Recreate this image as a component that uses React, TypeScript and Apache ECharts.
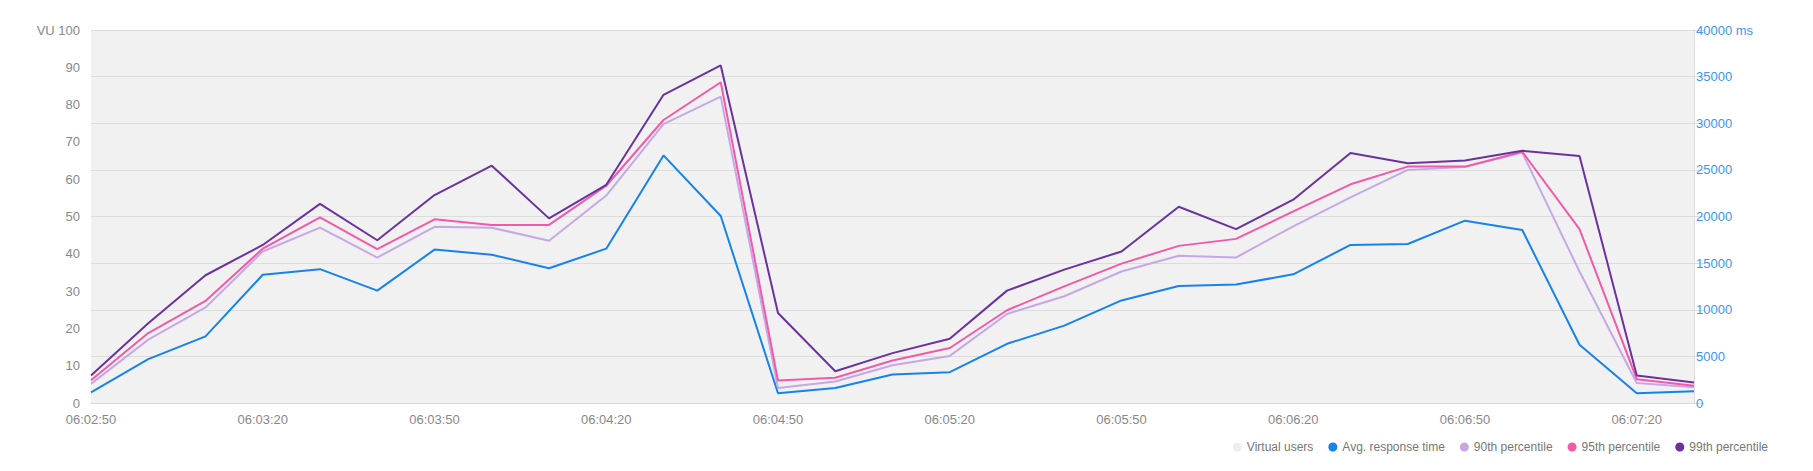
import React, { useEffect, useRef } from "react";
import * as echarts from "echarts";

const times = [
  "06:02:50", "06:03:00", "06:03:10", "06:03:20", "06:03:30", "06:03:40", "06:03:50", "06:04:00",
  "06:04:10", "06:04:20", "06:04:30", "06:04:40", "06:04:50", "06:05:00", "06:05:10", "06:05:20",
  "06:05:30", "06:05:40", "06:05:50", "06:06:00", "06:06:10", "06:06:20", "06:06:30", "06:06:40",
  "06:06:50", "06:07:00", "06:07:10", "06:07:20", "06:07:30",
];

const virtualUsers = [
  100, 100, 100, 100, 100, 100, 100, 100, 100, 100, 100, 100, 100, 100, 100,
  100, 100, 100, 100, 100, 100, 100, 100, 100, 100, 100, 100, 100, 100,
];

const avgResponse = [
  1150, 4700, 7150, 13750, 14350, 12050, 16450, 15900, 14450, 16550, 26550, 20050, 1050, 1600, 3050,
  3300, 6350, 8300, 11000, 12550, 12700, 13800, 16950, 17050, 19550, 18550, 6250, 1050, 1250,
];

const p90 = [
  2050, 6800, 10250, 16250, 18800, 15600, 18900, 18800, 17400, 22250, 29900, 32850, 1600, 2300, 4050,
  5050, 9550, 11450, 14100, 15800, 15600, 18950, 22050, 25000, 25300, 26850, 14100, 2150, 1700,
];

const p95 = [
  2450, 7500, 10950, 16550, 19900, 16500, 19700, 19100, 19100, 23300, 30350, 34400, 2400, 2700, 4550,
  5900, 9950, 12500, 14950, 16850, 17600, 20550, 23450, 25350, 25350, 26950, 18650, 2550, 1850,
];

const p99 = [
  2950, 8550, 13700, 16950, 21350, 17450, 22300, 25450, 19800, 23400, 33050, 36200, 9650, 3400, 5350,
  6900, 12050, 14300, 16250, 21050, 18650, 21800, 26800, 25700, 26000, 27050, 26500, 2950, 2200,
];

const legendNames = ["Virtual users", "Avg. response time", "90th percentile", "95th percentile", "99th percentile"];

const FONT = "'Liberation Sans', Arial, sans-serif";

export default function App() {
  const ref = useRef<HTMLDivElement>(null);

  useEffect(() => {
    document.body.style.margin = "0";
    if (!ref.current) return;
    const chart = echarts.init(ref.current, null, { renderer: "svg" });

    const line = (name: string, data: number[], color: string) => ({
      name,
      type: "line",
      yAxisIndex: 1,
      data,
      showSymbol: false,
      symbol: "circle",
      lineStyle: { color, width: 2 },
      itemStyle: { color },
      z: 3,
    });

    chart.setOption({
      animation: false,
      textStyle: { fontFamily: FONT },
      grid: { left: 91, right: 119, top: 30, bottom: 68, containLabel: false },
      legend: {
        right: 45,
        top: 441,
        padding: 0,
        itemGap: 15,
        itemWidth: 9,
        itemHeight: 9,
        icon: "circle",
        textStyle: { fontSize: 12, color: "#777", fontFamily: FONT },
        data: legendNames,
      },
      xAxis: {
        type: "category",
        data: times,
        boundaryGap: false,
        axisLine: { show: true, lineStyle: { color: "#c8c8c8", width: 1 } },
        axisTick: { show: false },
        axisLabel: { interval: 2, color: "#888", fontSize: 13, margin: 10, fontFamily: FONT },
        splitLine: { show: false },
      },
      yAxis: [
        {
          type: "value",
          min: 0,
          max: 100,
          interval: 10,
          position: "left",
          z: 1,
          axisLine: { show: false },
          axisTick: { show: false },
          splitLine: { show: false },
          axisLabel: {
            color: "#888",
            fontSize: 13,
            margin: 11,
            fontFamily: FONT,
            formatter: (v: number) => (v === 100 ? "VU 100" : String(v)),
          },
        },
        {
          type: "value",
          min: 0,
          max: 40000,
          interval: 5000,
          position: "right",
          z: 1,
          axisLine: { show: true, lineStyle: { color: "#dcdcdc", width: 1 } },
          axisTick: { show: true, length: 10, lineStyle: { color: "#dcdcdc" } },
          splitLine: { show: true, lineStyle: { color: "#dcdcdc", width: 1 } },
          axisLabel: {
            color: "#3a96f2",
            fontSize: 13,
            margin: 2,
            fontFamily: FONT,
            formatter: (v: number) => (v === 40000 ? "40000 ms" : String(v)),
          },
        },
      ],
      series: [
        {
          name: "Virtual users",
          type: "line",
          yAxisIndex: 0,
          data: virtualUsers,
          showSymbol: false,
          symbol: "circle",
          lineStyle: { width: 0, color: "#f1f1f1" },
          itemStyle: { color: "#eeeeee" },
          areaStyle: { color: "#f1f1f1", opacity: 1 },
          z: 0,
        },
        line("Avg. response time", avgResponse, "#1683ec"),
        line("90th percentile", p90, "#c6a8e6"),
        line("95th percentile", p95, "#f25aa8"),
        line("99th percentile", p99, "#6a329f"),
      ],
    });

    return () => chart.dispose();
  }, []);

  return <div ref={ref} style={{ width: 1813, height: 471 }} />;
}
